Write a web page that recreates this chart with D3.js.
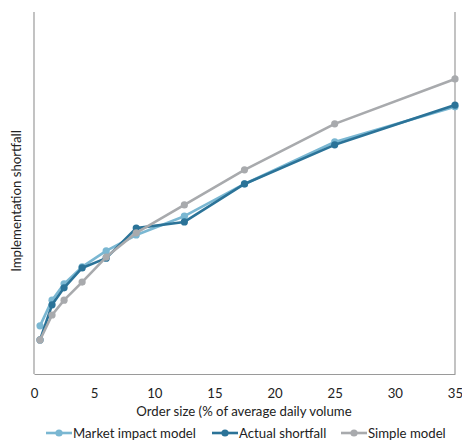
<!DOCTYPE html>
<html><head><meta charset="utf-8">
<script src="https://cdn.jsdelivr.net/npm/d3@7"></script>
<style>body{margin:0;background:#fff;}svg{display:block;font-family:Lato,"Open Sans",sans-serif;}</style>
</head><body>
<svg id="c" width="462" height="441"></svg>
<script>
const orderSize = [0.5, 1.5, 2.5, 4, 6, 8.5, 12.5, 17.5, 25, 35];
const marketImpact = [13.3, 20.4, 24.9, 29.6, 34.0, 38.4, 43.6, 52.5, 64.1, 73.8];
const actualShortfall = [9.4, 19.1, 23.8, 29.3, 32.0, 40.3, 42.0, 52.5, 63.3, 74.3];
const simpleModel = [9.4, 16.3, 20.4, 25.4, 32.3, 39.0, 46.7, 56.4, 69.1, 81.5];
const xTicks = [0, 5, 10, 15, 20, 25, 30, 35];
const seriesNames = ["Market impact model", "Actual shortfall", "Simple model"];
const seriesColors = ["#7ab7d2", "#2b7398", "#a8aaad"];

const svg = d3.select("#c");
const m = {l: 34, r: 455, t: 12, b: 374};
const x = d3.scaleLinear().domain([0, 35]).range([m.l, m.r]);
const y = d3.scaleLinear().domain([0, 100]).range([m.b, m.t]);
const fs = 13.2;

// frame: left, bottom, right
const frameColor = "#9a9a9a";
svg.append("line").attr("x1", m.l).attr("x2", m.l).attr("y1", m.t).attr("y2", m.b).attr("stroke", frameColor).attr("stroke-width", 1.2);
svg.append("line").attr("x1", m.r).attr("x2", m.r).attr("y1", m.t).attr("y2", m.b).attr("stroke", frameColor).attr("stroke-width", 1.2);

const xAxis = svg.append("g").attr("transform", `translate(0,${m.b})`)
  .call(d3.axisBottom(x).tickValues(xTicks).tickSize(0).tickPadding(15));
xAxis.select(".domain").attr("stroke", frameColor).attr("stroke-width", 1.2);
xAxis.selectAll("text").attr("font-size", fs).attr("fill", "#222").attr("font-family", "Lato, sans-serif");

svg.append("text").attr("x", 244).attr("y", 416).attr("text-anchor", "middle")
  .attr("font-size", fs).attr("fill", "#222").text("Order size (% of average daily volume");
svg.append("text").attr("transform", "translate(21,201) rotate(-90)").attr("text-anchor", "middle")
  .attr("font-size", fs).attr("fill", "#222").text("Implementation shortfall");

const data = [marketImpact, actualShortfall, simpleModel];
const line = d3.line().x((d, i) => x(orderSize[i])).y(d => y(d));
data.forEach((vals, k) => {
  const g = svg.append("g");
  g.append("path").datum(vals).attr("d", line).attr("fill", "none")
    .attr("stroke", seriesColors[k]).attr("stroke-width", 2.6).attr("stroke-linejoin", "round");
  g.selectAll("circle").data(vals).join("circle")
    .attr("cx", (d, i) => x(orderSize[i])).attr("cy", d => y(d)).attr("r", 3.6)
    .attr("fill", seriesColors[k]);
});

// legend
const legX = [46, 212, 341];
seriesNames.forEach((n, k) => {
  const g = svg.append("g").attr("transform", `translate(${legX[k]},433)`);
  g.append("line").attr("x1", 0).attr("x2", 26).attr("stroke", seriesColors[k]).attr("stroke-width", 2.6);
  g.append("circle").attr("cx", 13).attr("r", 3.6).attr("fill", seriesColors[k]);
  g.append("text").attr("x", 27).attr("y", 4.7).attr("font-size", fs).attr("fill", "#222").text(n);
});
</script>
</body></html>
